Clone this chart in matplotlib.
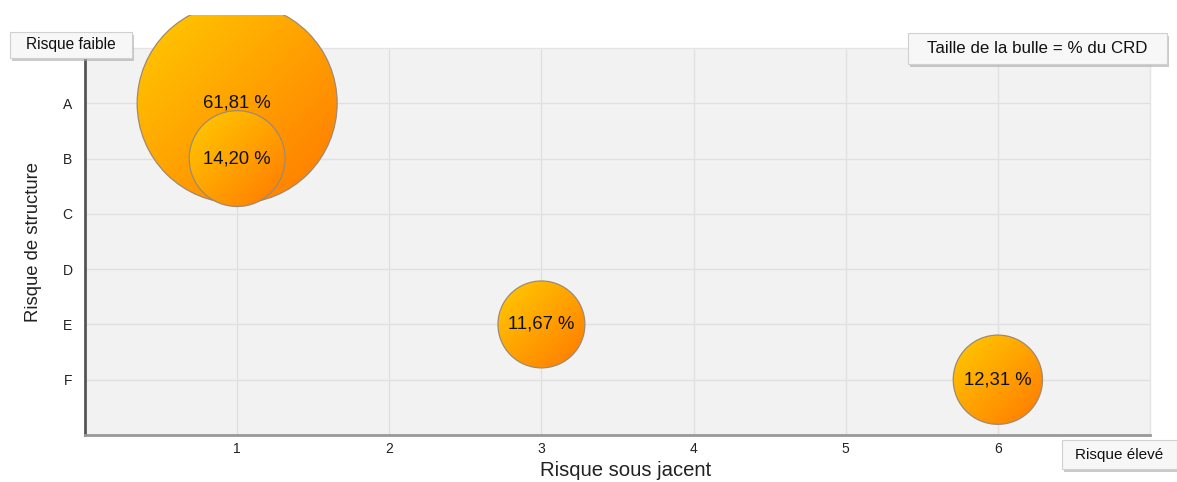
import numpy as np
import matplotlib
matplotlib.use("Agg")
import matplotlib.pyplot as plt
from matplotlib.patches import Ellipse, Rectangle
from matplotlib.colors import to_rgb
from matplotlib.transforms import Bbox

plt.rcParams['font.family'] = ['Liberation Sans', 'DejaVu Sans']

# Data
risque_sous_jacent = [1, 1, 3, 6]
risque_structure = ['A', 'B', 'E', 'F']
pct_crd = [61.81, 14.20, 11.67, 12.31]
x_ticks = [1, 2, 3, 4, 5, 6]
y_categories = ['A', 'B', 'C', 'D', 'E', 'F']

W, H = 1177, 482
fig = plt.figure(figsize=(W / 100, H / 100), dpi=100)
ax = fig.add_axes([85 / W, (H - 435) / H, (1150 - 85) / W, (435 - 48) / H])
ax.set_facecolor('#f2f2f2')

ax.set_xlim(0, 7)
ax.set_ylim(7, 0)
ax.set_xticks(x_ticks)
ax.set_yticks(range(1, len(y_categories) + 1))
ax.set_yticklabels(y_categories)
ax.tick_params(length=0, labelsize=10, colors='#222222')
ax.tick_params(axis='y', pad=9)
ax.tick_params(axis='x', pad=5)
ax.grid(True, color='#e0e0e0', lw=1)
ax.set_axisbelow(True)

for s in ('top', 'right'):
    ax.spines[s].set_color('#e4e4e4')
    ax.spines[s].set_linewidth(1)
ax.spines['left'].set_color('#555555')
ax.spines['left'].set_linewidth(2)
ax.spines['bottom'].set_color('#999999')
ax.spines['bottom'].set_linewidth(2)

ax.set_xlabel('Risque sous jacent', fontsize=14.6, color='#222222')
ax.set_ylabel('Risque de structure', fontsize=13.3, color='#222222')
ax.xaxis.set_label_coords(0.508, -0.066)
ax.yaxis.set_label_coords(-0.040, 0.5)

# Bubble geometry: area proportional to value
R_MAX_PX = 100.0
vmax = max(pct_crd)
fig.canvas.draw()
p0 = ax.transData.transform((0, 0))
px_per_x = abs(ax.transData.transform((1, 0))[0] - p0[0])
px_per_y = abs(ax.transData.transform((0, 1))[1] - p0[1])

c_light = np.array(to_rgb('#ffcc00'))
c_dark = np.array(to_rgb('#ff7800'))
n = 200
u = np.linspace(0, 1, n)
grad = (u[None, :] + u[:, None]) / 2.0
grad_img = c_light[None, None, :] * (1 - grad[..., None]) + c_dark[None, None, :] * grad[..., None]

clip_box = Bbox.from_extents(0, 0, W, H - 15)

cat_index = {c: i + 1 for i, c in enumerate(y_categories)}
order = np.argsort(pct_crd)[::-1]
for k, i in enumerate(order):
    x = risque_sous_jacent[i]
    y = cat_index[risque_structure[i]]
    v = pct_crd[i]
    r = R_MAX_PX * np.sqrt(v / vmax)
    rx, ry = r / px_per_x, r / px_per_y
    z = 3 + 2 * k
    circ = Ellipse((x, y), 2 * rx, 2 * ry, facecolor='none', edgecolor='#a08a70',
                   lw=0.9, zorder=z + 0.5, clip_on=True)
    ax.add_patch(circ)
    circ.set_clip_box(clip_box)
    im = ax.imshow(grad_img, extent=(x - rx, x + rx, y + ry, y - ry), origin='upper',
                   aspect='auto', zorder=z, interpolation='bilinear')
    im.set_clip_path(circ)
    im.set_clip_box(clip_box)
    ax.text(x, y, f"{v:.2f} %".replace('.', ','), ha='center', va='center',
            fontsize=13.3, color='#111111', zorder=20)

ax.set_xlim(0, 7)
ax.set_ylim(7, 0)


def label_box(x0, y0, x1, y1, text, fs):
    """Draw a boxed caption with a soft drop shadow (figure pixel coords, y from top)."""
    tr = fig.transFigure
    sh = Rectangle(((x0 + 2) / W, (H - y1 - 3) / H), (x1 - x0) / W, (y1 - y0) / H,
                   transform=tr, facecolor='#a8a8a8', edgecolor='none', alpha=0.6, zorder=30)
    fig.add_artist(sh)
    bx = Rectangle((x0 / W, (H - y1) / H), (x1 - x0) / W, (y1 - y0) / H,
                   transform=tr, facecolor='#f7f7f7', edgecolor='#d0d0d0', lw=0.8, zorder=31)
    fig.add_artist(bx)
    fig.text((x0 + x1) / 2 / W, (H - (y0 + y1) / 2) / H, text, ha='center', va='center',
             fontsize=fs, color='#111111', zorder=32)


label_box(10, 32, 132, 58, 'Risque faible', 11.2)
label_box(908, 33, 1167, 64, 'Taille de la bulle = % du CRD', 12.2)
label_box(1062, 440, 1177, 469, 'Risque élevé', 11)

fig.savefig('out.png', dpi=100)
